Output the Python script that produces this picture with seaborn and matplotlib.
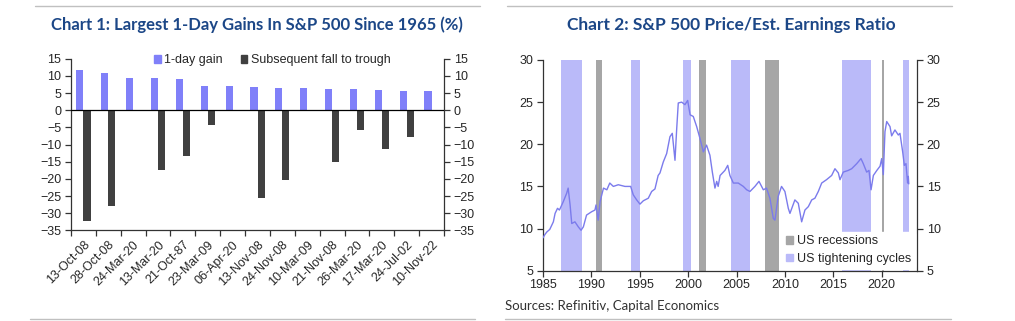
import numpy as np
import pandas as pd
import matplotlib
matplotlib.use("Agg")
import matplotlib.pyplot as plt
from matplotlib.patches import Patch
from matplotlib.lines import Line2D
import seaborn as sns

# ---------------- data ----------------
dates = ["13-Oct-08", "28-Oct-08", "24-Mar-20", "13-Mar-20", "21-Oct-87", "23-Mar-09",
         "06-Apr-20", "13-Nov-08", "24-Nov-08", "10-Mar-09", "21-Nov-08", "26-Mar-20",
         "17-Mar-20", "24-Jul-02", "10-Nov-22"]
gain = [11.6, 10.8, 9.4, 9.3, 9.1, 7.1, 7.0, 6.9, 6.5, 6.4, 6.3, 6.2, 6.0, 5.7, 5.5]
fall = [-32.4, -27.9, np.nan, -17.4, -13.2, -4.2, np.nan, -25.5, -20.3, np.nan,
        -15.2, -5.8, -11.3, -7.7, np.nan]
series_names = ["1-day gain", "Subsequent fall to trough"]

pe_year = [1985.0, 1985.2, 1985.4, 1985.7, 1986.07, 1986.25, 1986.5, 1986.7, 1987.1, 1987.45,
           1987.6, 1987.8, 1987.97, 1988.3, 1988.65, 1988.93, 1989.17, 1989.5, 1990.03, 1990.37,
           1990.48, 1990.7, 1990.9, 1991.25, 1991.6, 1991.9, 1992.27, 1992.78, 1993.47, 1994.06,
           1994.33, 1994.68, 1995.02, 1995.37, 1995.88, 1996.23, 1996.57, 1996.9, 1997.09, 1997.43,
           1997.78, 1998.12, 1998.36, 1998.64, 1998.82, 1998.98, 1999.33, 1999.67, 1999.95, 2000.2,
           2000.53, 2000.88, 2001.22, 2001.57, 2001.9, 2002.25, 2002.5, 2002.77, 2002.95, 2003.1,
           2003.3, 2003.8, 2004.09, 2004.32, 2004.67, 2005.18, 2005.7, 2006.05, 2006.39, 2006.9,
           2007.32, 2007.77, 2008.1, 2008.45, 2008.8, 2008.97, 2009.3, 2009.65, 2010.0, 2010.35,
           2010.52, 2011.03, 2011.38, 2011.73, 2012.07, 2012.42, 2012.77, 2013.1, 2013.45, 2013.8,
           2014.3, 2014.83, 2015.17, 2015.52, 2015.69, 2016.03, 2016.55, 2016.9, 2017.42, 2017.86,
           2018.1, 2018.45, 2018.69, 2018.9, 2019.14, 2019.5, 2019.83, 2020.0, 2020.17, 2020.34,
           2020.52, 2020.86, 2021.03, 2021.37, 2021.72, 2021.89, 2022.17, 2022.34, 2022.51, 2022.68,
           2022.75, 2022.8]
pe_value = [8.9, 9.3, 9.6, 9.9, 10.8, 11.8, 12.4, 12.2, 13.2, 14.2,
            14.8, 12.8, 10.6, 10.8, 10.2, 9.8, 10.2, 11.6, 12.0, 12.2,
            12.8, 11.0, 13.2, 14.8, 14.6, 15.4, 15.0, 15.2, 15.0, 15.0,
            14.0, 13.4, 12.9, 13.3, 13.6, 14.4, 14.7, 16.3, 16.6, 17.9,
            18.9, 20.9, 21.3, 18.1, 21.9, 24.9, 25.0, 24.7, 25.2, 23.5,
            23.3, 22.1, 20.7, 19.1, 19.9, 18.7, 16.7, 14.8, 15.6, 15.0,
            16.3, 16.9, 17.5, 16.3, 15.4, 15.4, 15.0, 14.6, 14.4, 15.0,
            15.6, 14.6, 14.8, 13.6, 11.2, 11.0, 13.8, 15.0, 14.4, 12.4,
            11.8, 13.4, 13.0, 10.8, 12.2, 12.6, 13.4, 13.6, 14.4, 15.4,
            15.8, 16.3, 17.1, 16.6, 15.8, 16.7, 16.9, 17.1, 17.7, 18.3,
            17.7, 16.7, 16.9, 14.6, 16.3, 16.9, 17.4, 18.3, 16.4, 21.5,
            22.7, 22.1, 21.0, 21.7, 21.1, 21.3, 19.1, 17.5, 17.7, 15.4,
            16.2, 15.3]

recession_start = [1990.51, 2001.17, 2007.94, 2020.04]
recession_end = [1991.13, 2001.83, 2009.36, 2020.2]
tight_start = [1986.86, 1994.09, 1999.43, 2004.43, 2015.93, 2022.17]
tight_end = [1989.06, 1995.05, 2000.3, 2006.39, 2018.9, 2022.79]

# ---------------- style ----------------
sns.set_theme(style="ticks")
plt.rcParams["font.family"] = ["Liberation Sans", "DejaVu Sans"]
plt.rcParams["font.size"] = 9

BAR_BLUE = "#8080f9"
BAR_DARK = "#404040"
LINE_BLUE = "#7b7bec"
SHADE_BLUE = "#babaf9"
SHADE_GREY = "#a6a6a6"
TITLE_BLUE = "#1c4787"
SPINE = "#333333"
TICKFS = 9

fig = plt.figure(figsize=(10.15, 3.21), dpi=100)

# ---------------- left chart ----------------
ax1 = fig.add_axes([71 / 1015, 1 - 230.4 / 321, 373 / 1015, 171.6 / 321])
df = pd.DataFrame({
    "date": dates * 2,
    "series": [series_names[0]] * len(dates) + [series_names[1]] * len(dates),
    "value": gain + fall,
})
sns.barplot(data=df, x="date", y="value", hue="series", order=dates,
            hue_order=series_names, palette=[BAR_BLUE, BAR_DARK],
            width=0.57, ax=ax1, errorbar=None, saturation=1, legend=False,
            linewidth=0)
ax1.set_xlim(-0.5, len(dates) - 0.5)
ax1.set_ylim(-35, 15)
ax1.set_yticks(range(-35, 16, 5))
ax1.axhline(0, color="black", lw=0.9, zorder=4)
ax1.set_xlabel("")
ax1.set_ylabel("")
ax1.set_xticks(range(len(dates)))
ax1.set_xticklabels(dates, rotation=45, ha="right", rotation_mode="anchor", fontsize=TICKFS)
ax1.set_xticks(np.arange(-0.5, len(dates), 1.0), minor=True)
ax1.tick_params(axis="x", which="major", length=0, pad=6)
ax1.tick_params(axis="x", which="minor", length=4, width=0.9, color=SPINE, direction="out")
ax1.tick_params(axis="y", left=True, right=True, labelleft=True, labelright=True,
                length=4, width=0.9, color=SPINE, labelsize=TICKFS, pad=3)
for s in ["left", "right", "bottom"]:
    ax1.spines[s].set_visible(True)
    ax1.spines[s].set_color(SPINE)
    ax1.spines[s].set_linewidth(0.9)
ax1.spines["top"].set_visible(False)
leg1 = ax1.legend(handles=[Patch(color=BAR_BLUE, label=series_names[0]),
                           Patch(color=BAR_DARK, label=series_names[1])],
                  loc="upper center", bbox_to_anchor=(0.54, 1.055), ncol=2, frameon=False,
                  fontsize=TICKFS, handlelength=0.55, handleheight=0.55,
                  handletextpad=0.3, columnspacing=1.4, borderaxespad=0)

# ---------------- right chart ----------------
ax2 = fig.add_axes([543 / 1015, 1 - 270.7 / 321, 374 / 1015, 210.7 / 321])
for a, b in zip(tight_start, tight_end):
    ax2.axvspan(a, b, color=SHADE_BLUE, lw=0, zorder=1)
for a, b in zip(recession_start, recession_end):
    ax2.axvspan(a, b, color=SHADE_GREY, lw=0, zorder=1)
pe_df = pd.DataFrame({"year": pe_year, "pe": pe_value})
sns.lineplot(data=pe_df, x="year", y="pe", ax=ax2, color=LINE_BLUE, lw=1.0, zorder=3)
ax2.set_xlim(1985, 2023.65)
ax2.set_ylim(5, 30)
ax2.set_xticks(range(1985, 2021, 5))
ax2.set_yticks(range(5, 31, 5))
ax2.set_xlabel("")
ax2.set_ylabel("")
ax2.tick_params(axis="x", length=4, width=0.9, color=SPINE, labelsize=TICKFS, pad=2)
ax2.tick_params(axis="y", left=True, right=True, labelleft=True, labelright=True,
                length=4, width=0.9, color=SPINE, labelsize=TICKFS, pad=3)
for s in ["left", "right", "bottom"]:
    ax2.spines[s].set_visible(True)
    ax2.spines[s].set_color(SPINE)
    ax2.spines[s].set_linewidth(0.9)
ax2.spines["top"].set_visible(False)
leg2 = ax2.legend(handles=[Patch(color=SHADE_GREY, label="US recessions"),
                           Patch(color=SHADE_BLUE, label="US tightening cycles")],
                  loc="lower right", frameon=True, framealpha=1, facecolor="white",
                  edgecolor="white", fontsize=TICKFS, handlelength=0.55, handleheight=0.55,
                  handletextpad=0.35, borderaxespad=0.15, labelspacing=0.45,
                  borderpad=0.3)
leg2.set_zorder(5)

# ---------------- titles, source, rules ----------------
fig.text(257 / 1015, 1 - 25 / 321, "Chart 1: Largest 1-Day Gains In S&P 500 Since 1965 (%)",
         ha="center", va="center", fontsize=12, fontweight="bold", color=TITLE_BLUE,
         family="Lato")
fig.text(731 / 1015, 1 - 25 / 321, "Chart 2: S&P 500 Price/Est. Earnings Ratio",
         ha="center", va="center", fontsize=12.5, fontweight="bold", color=TITLE_BLUE,
         family="Lato")
fig.text(505 / 1015, 1 - 306 / 321, "Sources: Refinitiv, Capital Economics",
         ha="left", va="center", fontsize=9.5, color="#333333", family="Lato")

rule = dict(color="#c0c0c0", lw=1.0, transform=fig.transFigure)
fig.add_artist(Line2D([35 / 1015, 480 / 1015], [1 - 6 / 321] * 2, **rule))
fig.add_artist(Line2D([507 / 1015, 952 / 1015], [1 - 6 / 321] * 2, **rule))
fig.add_artist(Line2D([30 / 1015, 475 / 1015], [1 - 319 / 321] * 2, **rule))
fig.add_artist(Line2D([505 / 1015, 951 / 1015], [1 - 319 / 321] * 2, **rule))

fig.savefig("out.png", dpi=100, facecolor="white")
